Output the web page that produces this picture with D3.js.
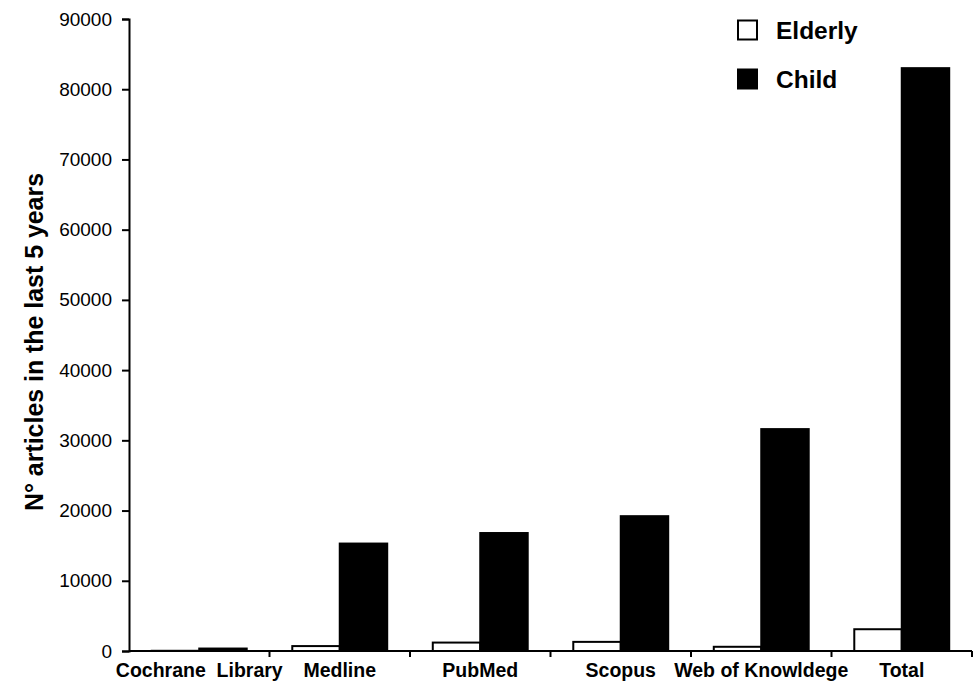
<!DOCTYPE html>
<html><head><meta charset="utf-8">
<script src="https://cdn.jsdelivr.net/npm/d3@7"></script>
<style>body{margin:0;background:#fff}svg{display:block}</style>
</head><body>
<svg id="c" width="974" height="684"></svg>
<script>
const categories = ["Cochrane  Library", "Medline", "PubMed", "Scopus", "Web of Knowldege", "Total"];
const series = ["Elderly", "Child"];
const elderly = [30, 700, 1200, 1300, 600, 3100];
const child = [350, 15300, 16800, 19200, 31600, 83000];
const yTicks = [0, 10000, 20000, 30000, 40000, 50000, 60000, 70000, 80000, 90000];

const svg = d3.select("#c");
const m = {l:129, r:2, t:19, b:33};
const W = 974, H = 684;
const x0 = d3.scaleBand().domain(categories).range([m.l, W - m.r]).padding(0);
const x1 = d3.scaleBand().domain(series).range([0, x0.bandwidth()]).paddingInner(0).paddingOuter(0.48);
const y = d3.scaleLinear().domain([0, 90000]).range([H - m.b, m.t]);

const data = categories.map((c, i) => ({cat: c, vals: [{s:"Elderly", v: elderly[i]}, {s:"Child", v: child[i]}]}));

const g = svg.append("g");
g.selectAll("g.grp").data(data).join("g").attr("class","grp")
 .attr("transform", d => `translate(${x0(d.cat)},0)`)
 .selectAll("rect").data(d => d.vals).join("rect")
 .attr("x", d => x1(d.s))
 .attr("width", x1.bandwidth())
 .attr("y", d => y(d.v))
 .attr("height", d => y(0) - y(d.v))
 .attr("fill", d => d.s === "Child" ? "#000" : "#fff")
 .attr("stroke", "#000").attr("stroke-width", 2);

// Y axis
const ya = svg.append("g").attr("transform", `translate(${m.l},0)`)
 .call(d3.axisLeft(y).tickValues(yTicks).tickFormat(d3.format("d")).tickSize(7).tickPadding(10));
ya.select(".domain").attr("stroke-width", 2);
ya.selectAll(".tick line").attr("stroke-width", 2);
ya.selectAll("text").attr("font-family", "Liberation Sans, Arial, sans-serif").attr("font-size", 19).attr("fill","#000");

// X axis
const xa = svg.append("g").attr("transform", `translate(0,${y(0)})`);
xa.append("line").attr("x1", m.l).attr("x2", W - m.r).attr("stroke","#000").attr("stroke-width",2);
const bounds = categories.map(c => x0(c) + x0.bandwidth());
xa.selectAll("line.tk").data(bounds).join("line").attr("class","tk")
 .attr("x1", d => d).attr("x2", d => d).attr("y1", 0).attr("y2", 6)
 .attr("stroke","#000").attr("stroke-width",2);
xa.selectAll("text").data(categories).join("text")
 .attr("x", d => x0(d) + x0.bandwidth()/2)
 .attr("y", 26)
 .attr("text-anchor","middle")
 .attr("font-family","Liberation Sans, Arial, sans-serif")
 .attr("font-weight","bold").attr("font-size",19.5)
 .style("white-space","pre").attr("xml:space","preserve")
 .text(d => d);

// Y title
svg.append("text")
 .attr("transform", `translate(43,342) rotate(-90)`)
 .attr("text-anchor","middle")
 .attr("font-family","Liberation Sans Narrow, Arial Narrow, Liberation Sans, sans-serif")
 .attr("font-weight","bold").attr("font-size",25)
 .attr("textLength", 338).attr("lengthAdjust","spacingAndGlyphs")
 .text("N° articles in the last 5 years");

// Legend
const leg = svg.append("g");
const legY = [30, 79];
series.forEach((s, i) => {
  leg.append("rect").attr("x", 738).attr("y", legY[i] - 9.5).attr("width", 19).attr("height", 19)
    .attr("fill", s === "Child" ? "#000" : "#fff").attr("stroke","#000").attr("stroke-width",2);
  leg.append("text").attr("x", 776).attr("y", legY[i] + 9)
    .attr("font-family","Liberation Sans, Arial, sans-serif").attr("font-weight","bold").attr("font-size",24.5)
    .text(s);
});
</script>
</body></html>
